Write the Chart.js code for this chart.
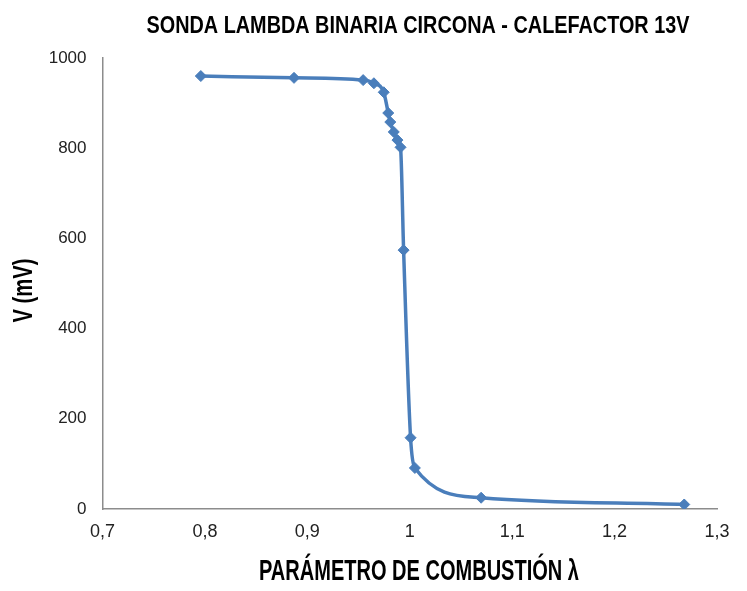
<!DOCTYPE html>
<html>
<head>
<meta charset="utf-8">
<script src="https://cdn.jsdelivr.net/npm/chart.js@4"></script>
<style>
  html, body { margin: 0; padding: 0; background: #fff; }
  #wrap { width: 747px; height: 591px; }
</style>
</head>
<body>
<div id="wrap"><canvas id="lambdaChart" width="747" height="591"></canvas></div>
<script>
// lambda (x) and sensor voltage in mV (y)
const lambdaValues = [0.796, 0.887, 0.9545, 0.965, 0.9746, 0.979, 0.981, 0.9844, 0.988, 0.991, 0.994, 1.0008, 1.005, 1.0697, 1.268];
const voltageValues = [960, 956, 951, 944, 924, 878, 858, 836, 818, 802, 574, 158, 91, 25, 10];
const xTicks = [0.7, 0.8, 0.9, 1.0, 1.1, 1.2, 1.3];
const yTicks = [0, 200, 400, 600, 800, 1000];

const chartTitle = 'SONDA LAMBDA BINARIA CIRCONA - CALEFACTOR 13V';
const xTitle = 'PARÁMETRO DE COMBUSTIÓN λ';
const yTitle = 'V (mV)';

const boldFont = "'Liberation Sans', Arial, sans-serif";
const tickFont = "'Liberation Sans', Arial, sans-serif";
const blue = '#4a7ebb';

function commaLabel(v) {
  return String(Math.round(v * 10) / 10).replace('.', ',');
}

// the original uses a condensed bold face; squeeze bold text with fillText's maxWidth
function squeezedText(ctx, text, x, y, size, width, angle) {
  ctx.save();
  ctx.translate(x, y);
  if (angle) ctx.rotate(angle);
  ctx.font = 'bold ' + size + 'px ' + boldFont;
  ctx.fillStyle = '#000';
  ctx.textAlign = 'center';
  ctx.textBaseline = 'middle';
  ctx.fillText(text, 0, 0, width);
  ctx.restore();
}

const titlesPlugin = {
  id: 'condensedTitles',
  afterDraw(chart) {
    const c = chart.ctx;
    const area = chart.chartArea;
    squeezedText(c, chartTitle, 418, 26, 24, 543);
    squeezedText(c, xTitle, 419, 572, 29, 320);
    squeezedText(c, yTitle, 25, (area.top + area.bottom) / 2 + 7, 27, 64, -Math.PI / 2);
  }
};

const points = lambdaValues.map((x, i) => ({ x: x, y: voltageValues[i] }));

const ctx = document.getElementById('lambdaChart').getContext('2d');
new Chart(ctx, {
  type: 'scatter',
  data: {
    datasets: [{
      data: points,
      showLine: true,
      borderColor: blue,
      backgroundColor: blue,
      borderWidth: 3.5,
      cubicInterpolationMode: 'monotone',
      pointStyle: 'rectRot',
      pointRadius: 5.5,
      pointBorderWidth: 1,
      pointBackgroundColor: blue,
      pointBorderColor: blue
    }]
  },
  plugins: [titlesPlugin],
  options: {
    responsive: false,
    animation: false,
    layout: { padding: { left: 0, right: 30, top: 58, bottom: 0 } },
    plugins: {
      legend: { display: false },
      tooltip: { enabled: false },
      title: { display: false }
    },
    scales: {
      x: {
        type: 'linear',
        min: 0.7,
        max: 1.3,
        afterBuildTicks: s => { s.ticks = xTicks.map(v => ({ value: v })); },
        afterFit: s => { s.height = 82; },
        grid: { display: false, drawTicks: false },
        border: { display: true, color: '#8c8c8c', width: 1.5 },
        ticks: {
          padding: 12,
          color: '#222',
          font: { family: tickFont, size: 18 },
          callback: v => commaLabel(v)
        }
      },
      y: {
        min: 0,
        max: 1000,
        afterBuildTicks: s => { s.ticks = yTicks.map(v => ({ value: v })); },
        afterFit: s => { s.width = 102.5; },
        grid: { display: false, drawTicks: false },
        border: { display: true, color: '#8c8c8c', width: 1.5 },
        ticks: {
          padding: 16,
          color: '#222',
          font: { family: tickFont, size: 17 },
          callback: v => String(v)
        }
      }
    }
  }
});
</script>
</body>
</html>
